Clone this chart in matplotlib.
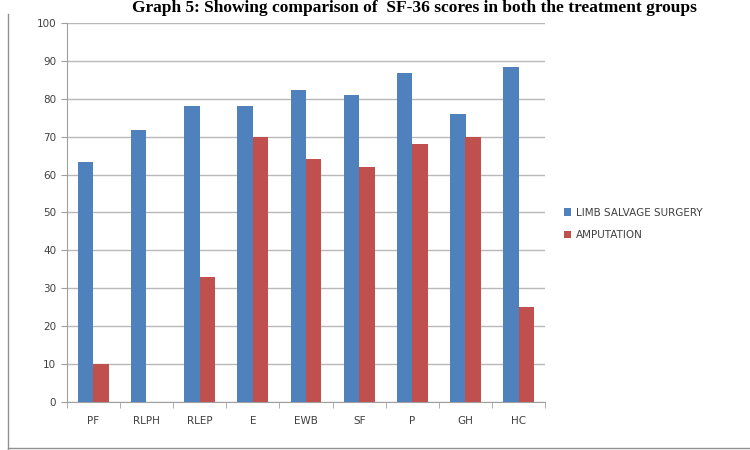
import numpy as np
import matplotlib.pyplot as plt
from matplotlib.lines import Line2D

# SF-36 domains and mean scores
domains = ["PF", "RLPH", "RLEP", "E", "EWB", "SF", "P", "GH", "HC"]
limb_salvage = [63.3, 71.7, 78, 78, 82.3, 81, 86.7, 76, 88.3]
amputation = [10, 0, 33, 70, 64, 62, 68, 70, 25]

blue = "#4F81BD"
red = "#C0504D"

fig = plt.figure(figsize=(7.5, 4.5), dpi=100)
ax = fig.add_axes([0.089, 0.107, 0.638, 0.842])

x = np.arange(len(domains))
w = 0.29
ax.bar(x - w / 2, limb_salvage, w, color=blue, label="LIMB SALVAGE SURGERY", zorder=3)
ax.bar(x + w / 2, amputation, w, color=red, label="AMPUTATION", zorder=3)

ax.set_xlim(-0.5, len(domains) - 0.5)
ax.set_ylim(0, 100)
ax.set_yticks(range(0, 101, 10))
ax.set_xticks(x)
ax.set_xticklabels(domains)
ax.set_xticks(np.arange(-0.5, len(domains), 1), minor=True)
ax.tick_params(axis="x", which="major", length=0, pad=10, labelsize=7.5, colors="#404040")
ax.tick_params(axis="x", which="minor", length=4, color="#a0a0a0")
ax.tick_params(axis="y", length=4, color="#a0a0a0", labelsize=7.5, colors="#404040")
ax.grid(axis="y", color="#b8b8b8", linewidth=1, zorder=0)
for s in ["top", "right"]:
    ax.spines[s].set_visible(False)
ax.spines["left"].set_color("#a0a0a0")
ax.spines["bottom"].set_color("#a0a0a0")

ax.legend(loc="center left", bbox_to_anchor=(1.02, 0.47), frameon=False,
          fontsize=7.5, handlelength=0.7, handleheight=0.7, handletextpad=0.4,
          labelspacing=1.2, labelcolor="#404040")

fig.text(0.553, 0.999, "Graph 5: Showing comparison of  SF-36 scores in both the treatment groups",
         ha="center", va="top", fontsize=12.5, fontweight="bold", family="Liberation Serif")

# page frame lines
fig.add_artist(Line2D([0.011, 0.011], [0.0, 0.97], color="#909090", linewidth=1))
fig.add_artist(Line2D([0.011, 1.0], [0.005, 0.005], color="#909090", linewidth=1))

fig.savefig("out.png", dpi=100)
